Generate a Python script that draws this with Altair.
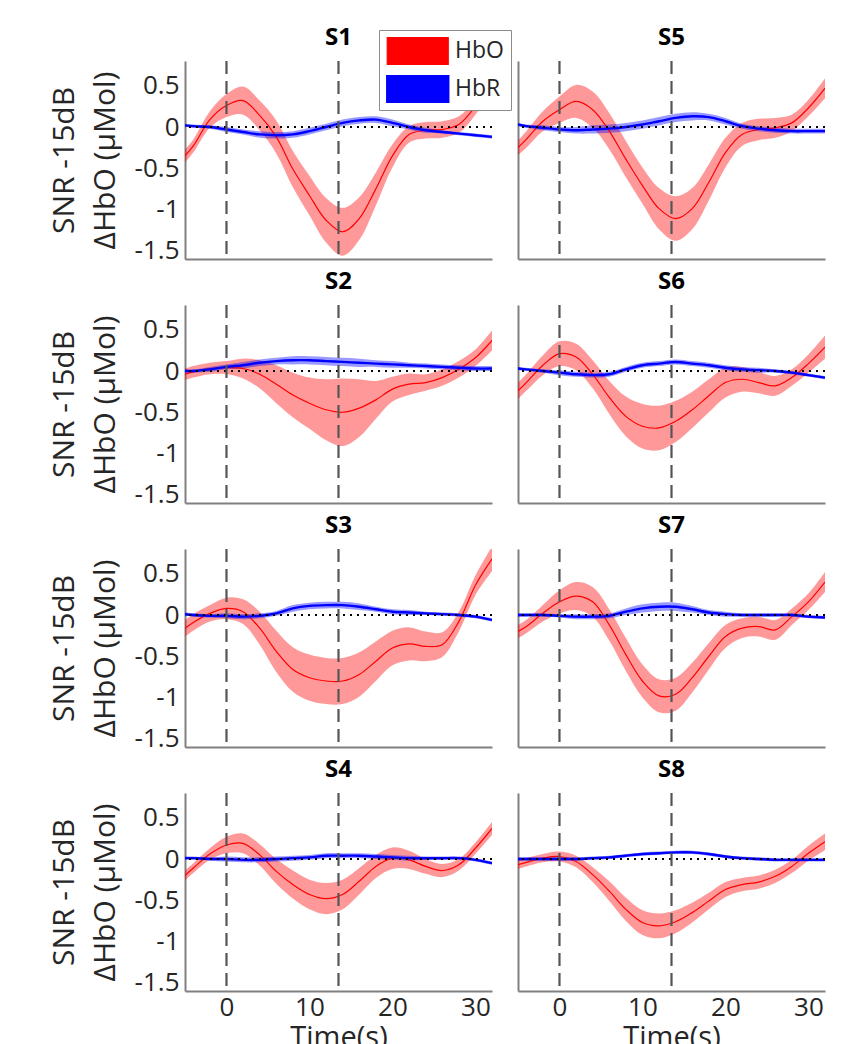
import altair as alt
import pandas as pd

# time grid (s)
t = [-5, -4, -2, 0, 2, 4, 6, 8, 10, 12, 14, 16, 18, 20, 22, 24, 26, 28, 30, 32]
stim_times = [0, 13.5]
panels = ["S1", "S5", "S2", "S6", "S3", "S7", "S4", "S8"]

# HbO mean
hbo_S1 = [-0.35, -0.23, 0.09, 0.26, 0.32, 0.14, -0.12, -0.51, -0.83, -1.13, -1.27, -1.11, -0.75, -0.35, -0.09, -0.04, -0.03, 0.03, 0.25, 0.55]
hbo_S2 = [-0.04, -0.01, 0.03, 0.04, 0.03, -0.04, -0.16, -0.29, -0.39, -0.47, -0.50, -0.45, -0.35, -0.22, -0.16, -0.14, -0.08, 0.02, 0.16, 0.37]
hbo_S3 = [-0.16, -0.09, 0.02, 0.08, 0.04, -0.16, -0.44, -0.66, -0.76, -0.80, -0.80, -0.72, -0.56, -0.40, -0.35, -0.38, -0.36, -0.08, 0.36, 0.68]
hbo_S4 = [-0.20, -0.11, 0.06, 0.17, 0.19, 0.05, -0.15, -0.31, -0.43, -0.48, -0.43, -0.27, -0.09, 0.01, -0.01, -0.09, -0.14, -0.07, 0.13, 0.37]
hbo_S5 = [-0.25, -0.15, 0.07, 0.21, 0.31, 0.21, -0.05, -0.39, -0.71, -0.99, -1.11, -0.99, -0.67, -0.31, -0.09, -0.03, -0.01, 0.05, 0.23, 0.47]
hbo_S6 = [-0.24, -0.14, 0.07, 0.21, 0.17, -0.04, -0.32, -0.55, -0.67, -0.69, -0.61, -0.47, -0.30, -0.14, -0.10, -0.14, -0.18, -0.08, 0.09, 0.29]
hbo_S7 = [-0.20, -0.14, 0.02, 0.16, 0.23, 0.16, -0.12, -0.48, -0.80, -0.98, -0.96, -0.76, -0.50, -0.26, -0.16, -0.14, -0.18, -0.02, 0.16, 0.40]
hbo_S8 = [-0.07, -0.04, 0.01, 0.03, -0.03, -0.19, -0.39, -0.61, -0.77, -0.81, -0.76, -0.65, -0.51, -0.37, -0.31, -0.28, -0.21, -0.09, 0.07, 0.21]

# HbO band half-width
hbo_hw_S1 = [0.08, 0.08, 0.10, 0.14, 0.17, 0.18, 0.20, 0.22, 0.24, 0.27, 0.29, 0.26, 0.20, 0.14, 0.10, 0.10, 0.10, 0.10, 0.10, 0.10]
hbo_hw_S2 = [0.07, 0.07, 0.07, 0.08, 0.12, 0.17, 0.23, 0.27, 0.31, 0.37, 0.41, 0.35, 0.23, 0.15, 0.13, 0.10, 0.10, 0.10, 0.10, 0.12]
hbo_hw_S3 = [0.10, 0.10, 0.10, 0.13, 0.15, 0.20, 0.25, 0.27, 0.28, 0.28, 0.28, 0.27, 0.24, 0.21, 0.20, 0.18, 0.15, 0.12, 0.12, 0.15]
hbo_hw_S4 = [0.06, 0.06, 0.07, 0.10, 0.12, 0.13, 0.15, 0.17, 0.18, 0.19, 0.18, 0.16, 0.14, 0.13, 0.11, 0.09, 0.08, 0.07, 0.07, 0.08]
hbo_hw_S5 = [0.09, 0.10, 0.12, 0.16, 0.20, 0.22, 0.22, 0.22, 0.22, 0.25, 0.27, 0.25, 0.22, 0.18, 0.14, 0.13, 0.12, 0.10, 0.10, 0.12]
hbo_hw_S6 = [0.10, 0.10, 0.12, 0.15, 0.16, 0.17, 0.20, 0.24, 0.27, 0.27, 0.25, 0.22, 0.20, 0.18, 0.15, 0.13, 0.12, 0.10, 0.11, 0.14]
hbo_hw_S7 = [0.08, 0.08, 0.10, 0.14, 0.17, 0.18, 0.19, 0.20, 0.20, 0.20, 0.20, 0.18, 0.16, 0.14, 0.12, 0.12, 0.12, 0.10, 0.10, 0.12]
hbo_hw_S8 = [0.05, 0.05, 0.05, 0.06, 0.07, 0.09, 0.12, 0.14, 0.15, 0.15, 0.14, 0.12, 0.10, 0.09, 0.08, 0.08, 0.08, 0.08, 0.09, 0.10]

# HbR mean
hbr_S1 = [0.02, 0.01, 0.00, -0.03, -0.06, -0.09, -0.10, -0.09, -0.05, 0.00, 0.05, 0.08, 0.09, 0.05, 0.00, -0.04, -0.06, -0.08, -0.10, -0.12]
hbr_S2 = [0.00, 0.00, 0.02, 0.05, 0.07, 0.10, 0.12, 0.13, 0.13, 0.12, 0.11, 0.10, 0.09, 0.08, 0.07, 0.06, 0.05, 0.04, 0.03, 0.03]
hbr_S3 = [0.01, 0.00, -0.01, -0.01, -0.02, -0.01, 0.02, 0.08, 0.11, 0.12, 0.12, 0.10, 0.07, 0.04, 0.03, 0.02, 0.01, 0.00, -0.02, -0.06]
hbr_S4 = [0.01, 0.01, 0.00, 0.00, -0.01, -0.01, 0.00, 0.01, 0.02, 0.04, 0.04, 0.04, 0.03, 0.02, 0.01, 0.01, 0.01, 0.01, -0.01, -0.05]
hbr_S5 = [0.03, 0.01, -0.01, -0.03, -0.04, -0.03, -0.02, 0.00, 0.03, 0.07, 0.11, 0.13, 0.12, 0.07, 0.01, -0.02, -0.04, -0.05, -0.05, -0.05]
hbr_S6 = [0.03, 0.02, 0.00, -0.02, -0.04, -0.05, -0.04, 0.02, 0.07, 0.09, 0.11, 0.09, 0.07, 0.04, 0.02, 0.01, 0.00, -0.02, -0.05, -0.08]
hbr_S7 = [0.00, 0.00, 0.00, -0.01, -0.02, -0.02, -0.01, 0.04, 0.08, 0.10, 0.10, 0.07, 0.03, 0.01, 0.00, 0.00, 0.00, 0.00, -0.02, -0.03]
hbr_S8 = [0.00, 0.00, 0.00, 0.00, 0.00, 0.01, 0.02, 0.04, 0.06, 0.07, 0.08, 0.08, 0.06, 0.03, 0.01, 0.00, -0.01, -0.01, -0.01, -0.01]

# HbR band half-width
hbr_hw_S1 = [0.02, 0.02, 0.02, 0.03, 0.03, 0.04, 0.04, 0.04, 0.04, 0.04, 0.04, 0.04, 0.04, 0.04, 0.03, 0.03, 0.02, 0.02, 0.02, 0.02]
hbr_hw_S2 = [0.02, 0.02, 0.03, 0.03, 0.04, 0.04, 0.04, 0.05, 0.05, 0.05, 0.05, 0.05, 0.04, 0.04, 0.03, 0.03, 0.03, 0.03, 0.03, 0.03]
hbr_hw_S3 = [0.02, 0.02, 0.02, 0.03, 0.03, 0.03, 0.03, 0.04, 0.04, 0.04, 0.04, 0.04, 0.03, 0.03, 0.03, 0.02, 0.02, 0.02, 0.02, 0.02]
hbr_hw_S4 = [0.02, 0.02, 0.02, 0.03, 0.03, 0.03, 0.03, 0.03, 0.03, 0.03, 0.03, 0.03, 0.03, 0.03, 0.03, 0.02, 0.02, 0.02, 0.02, 0.02]
hbr_hw_S5 = [0.02, 0.02, 0.03, 0.03, 0.04, 0.05, 0.05, 0.05, 0.05, 0.05, 0.05, 0.05, 0.04, 0.04, 0.03, 0.03, 0.03, 0.03, 0.03, 0.03]
hbr_hw_S6 = [0.02, 0.02, 0.02, 0.03, 0.03, 0.03, 0.03, 0.03, 0.03, 0.03, 0.03, 0.03, 0.03, 0.03, 0.03, 0.03, 0.02, 0.02, 0.02, 0.02]
hbr_hw_S7 = [0.02, 0.02, 0.02, 0.02, 0.03, 0.03, 0.03, 0.04, 0.05, 0.05, 0.05, 0.04, 0.03, 0.03, 0.02, 0.02, 0.02, 0.02, 0.02, 0.02]
hbr_hw_S8 = [0.02, 0.02, 0.02, 0.02, 0.02, 0.02, 0.02, 0.02, 0.02, 0.02, 0.02, 0.02, 0.02, 0.02, 0.02, 0.02, 0.02, 0.02, 0.02, 0.02]

hbo = {"S1": hbo_S1, "S2": hbo_S2, "S3": hbo_S3, "S4": hbo_S4,
       "S5": hbo_S5, "S6": hbo_S6, "S7": hbo_S7, "S8": hbo_S8}
hbo_hw = {"S1": hbo_hw_S1, "S2": hbo_hw_S2, "S3": hbo_hw_S3, "S4": hbo_hw_S4,
          "S5": hbo_hw_S5, "S6": hbo_hw_S6, "S7": hbo_hw_S7, "S8": hbo_hw_S8}
hbr = {"S1": hbr_S1, "S2": hbr_S2, "S3": hbr_S3, "S4": hbr_S4,
       "S5": hbr_S5, "S6": hbr_S6, "S7": hbr_S7, "S8": hbr_S8}
hbr_hw = {"S1": hbr_hw_S1, "S2": hbr_hw_S2, "S3": hbr_hw_S3, "S4": hbr_hw_S4,
          "S5": hbr_hw_S5, "S6": hbr_hw_S6, "S7": hbr_hw_S7, "S8": hbr_hw_S8}

rows = []
for p in panels:
    for i, tt in enumerate(t):
        m, w = hbo[p][i], hbo_hw[p][i]
        rows.append(dict(panel=p, t=tt, series="HbO", mean=m, lo=m - w, hi=m + w))
        m, w = hbr[p][i], hbr_hw[p][i]
        rows.append(dict(panel=p, t=tt, series="HbR", mean=m, lo=m - w, hi=m + w))
df = pd.DataFrame(rows)
stim_df = pd.DataFrame({"t": stim_times})
zero_df = pd.DataFrame({"y": [0]})

FONT = "Open Sans"
TXT = "#262626"
AX = "#808080"
CURVE = "catmull-rom"
color_scale = alt.Scale(domain=["HbO", "HbR"], range=["#ff0000", "#0000ff"])
xs = alt.Scale(domain=[-5, 32], nice=False, zero=False)
ys = alt.Scale(domain=[-1.6, 0.8], nice=False, zero=False)

legend = alt.Legend(
    title=None, orient="none", legendX=194, legendY=-31,
    symbolType="M-1,-0.92H3V0.92H-1Z", symbolSize=930, symbolOpacity=1,
    symbolStrokeWidth=0, labelFont=FONT, labelFontSize=23, labelColor=TXT,
    labelOffset=36, rowPadding=10, padding=7, clipHeight=28, fillColor="white",
    strokeColor="#8c8c8c", cornerRadius=0)


def panel(name, left, bottom):
    xaxis = alt.Axis(values=[0, 10, 20, 30], labels=bottom, ticks=False, grid=False,
                     title="Time(s)" if bottom else None,
                     labelFont=FONT, labelFontSize=26, labelColor=TXT, labelPadding=3,
                     titleFont=FONT, titleFontSize=29, titleFontWeight="normal",
                     titleColor=TXT, titlePadding=3,
                     domainColor=AX, domainWidth=2)
    yaxis = alt.Axis(values=[-1.5, -1, -0.5, 0, 0.5], labels=left, ticks=False, grid=False,
                     title=["SNR -15dB", "\u0394HbO (\u03bcMol)"] if left else None,
                     labelExpr="'' + datum.value",
                     labelFont=FONT, labelFontSize=26, labelColor=TXT, labelPadding=6,
                     titleFont=FONT, titleFontSize=30, titleFontWeight="normal",
                     titleColor=TXT, titleLineHeight=41, titlePadding=14,
                     domainColor=AX, domainWidth=2)
    base = alt.Chart(df).transform_filter(alt.datum.panel == name)
    band = base.mark_area(opacity=0.4, interpolate=CURVE, clip=True).encode(
        x=alt.X("t:Q", scale=xs, axis=xaxis),
        y=alt.Y("lo:Q", scale=ys, axis=yaxis),
        y2="hi:Q",
        color=alt.Color("series:N", scale=color_scale, legend=legend),
    )
    line = base.mark_line(interpolate=CURVE, clip=True).encode(
        x=alt.X("t:Q", scale=xs, axis=xaxis),
        y=alt.Y("mean:Q", scale=ys, axis=yaxis),
        color=alt.Color("series:N", scale=color_scale, legend=None),
        strokeWidth=alt.StrokeWidth("series:N", scale=alt.Scale(domain=["HbO", "HbR"], range=[1.2, 2.4]), legend=None),
    )
    zero = alt.Chart(zero_df).mark_rule(strokeDash=[2, 5], color="black", strokeWidth=1.8).encode(
        y=alt.Y("y:Q", scale=ys, axis=yaxis))
    stim = alt.Chart(stim_df).mark_rule(strokeDash=[13, 7], color="#555555", strokeWidth=2.2).encode(
        x=alt.X("t:Q", scale=xs, axis=xaxis))
    return alt.layer(band, line, zero, stim).properties(
        width=307, height=198,
        title=alt.TitleParams(name, font=FONT, fontSize=24, fontWeight="bold", color="black", offset=10))


grid = []
for r in range(4):
    l, rr = panels[2 * r], panels[2 * r + 1]
    grid.append(alt.hconcat(panel(l, True, r == 3), panel(rr, False, r == 3), spacing=24))

chart = alt.vconcat(*grid, spacing=5).properties(
    padding={"left": 41, "top": 17, "right": 5, "bottom": 5}
).configure_view(stroke=None).resolve_scale(color="shared")

chart.save("out.html", embed_options={"renderer": "svg", "actions": False})
